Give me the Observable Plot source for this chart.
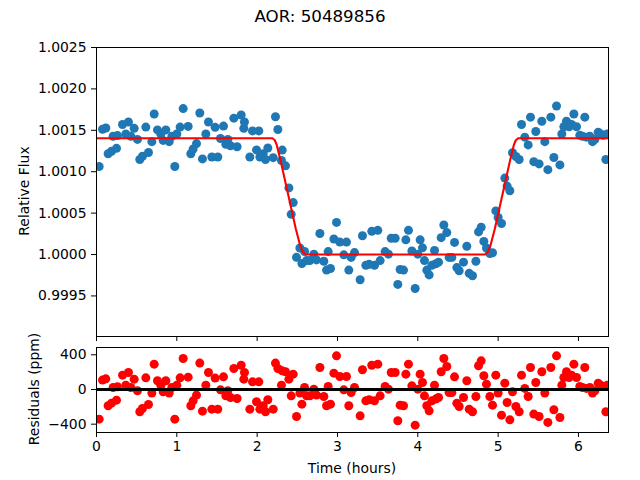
<!DOCTYPE html>
<html>
<head>
<meta charset="utf-8">
<script src="https://cdn.jsdelivr.net/npm/d3@7"></script>
<script src="https://cdn.jsdelivr.net/npm/@observablehq/plot@0.6"></script>
<style>
  html, body { margin: 0; padding: 0; background: #fff; }
  #fig { position: relative; width: 640px; height: 480px; font-family: "DejaVu Sans", sans-serif; color: #000; overflow: hidden; }
  #fig svg { position: absolute; left: 0; }
  .lbl { position: absolute; white-space: nowrap; font-size: 13.9px; transform: translate(-50%, -50%); }
  .rot { transform: translate(-50%, -50%) rotate(-90deg); }
  .title { position: absolute; left: 0; width: 640px; top: 6px; text-align: center; font-size: 16.7px; line-height: 20px; }
</style>
</head>
<body>
<div id="fig">
  <div class="title">AOR: 50489856</div>
  <div class="lbl rot" style="left:24px; top:191px;">Relative Flux</div>
  <div class="lbl rot" style="left:34px; top:389px;">Residuals (ppm)</div>
  <div class="lbl" style="left:352px; top:468px;">Time (hours)</div>
</div>
<script>
// Observation times (hours since start)
const time = [
  0.033, 0.075, 0.116, 0.145, 0.187, 0.207, 0.249, 0.261, 0.324, 0.365,
  0.398, 0.427, 0.469, 0.51, 0.539, 0.572, 0.614, 0.647, 0.689, 0.718,
  0.759, 0.801, 0.83, 0.863, 0.905, 0.938, 0.975, 1.0, 1.041, 1.079,
  1.141, 1.174, 1.203, 1.245, 1.286, 1.319, 1.361, 1.394, 1.436, 1.477,
  1.51, 1.543, 1.581, 1.61, 1.635, 1.668, 1.71, 1.75, 1.801, 1.834,
  1.842, 1.909, 1.942, 1.992, 2.021, 2.034, 2.075, 2.104, 2.133, 2.2,
  2.228, 2.258, 2.303, 2.312, 2.353, 2.395, 2.424, 2.449, 2.49, 2.532,
  2.557, 2.59, 2.615, 2.656, 2.706, 2.739, 2.781, 2.83, 2.864, 2.884,
  2.913, 2.955, 2.988, 3.029, 3.079, 3.112, 3.141, 3.17, 3.212, 3.282,
  3.311, 3.353, 3.394, 3.427, 3.461, 3.502, 3.531, 3.593, 3.635, 3.669,
  3.718, 3.751, 3.78, 3.822, 3.851, 3.884, 3.926, 3.967, 4.0, 4.029,
  4.058, 4.083, 4.112, 4.141, 4.175, 4.208, 4.224, 4.258, 4.291, 4.324,
  4.361, 4.39, 4.424, 4.457, 4.486, 4.515, 4.569, 4.61, 4.64, 4.681,
  4.723, 4.756, 4.789, 4.822, 4.855, 4.897, 4.93, 4.971, 5.0, 5.042,
  5.083, 5.112, 5.146, 5.179, 5.221, 5.262, 5.291, 5.332, 5.374, 5.403,
  5.444, 5.469, 5.51, 5.544, 5.581, 5.619, 5.656, 5.694, 5.727, 5.769,
  5.793, 5.818, 5.851, 5.884, 5.914, 5.943, 5.976, 6.017, 6.05, 6.079,
  6.1, 6.142, 6.175, 6.204, 6.246, 6.275, 6.308, 6.341, 6.358
];

// Measured relative flux
const flux = [
  1.001063, 1.001513, 1.001528, 1.001217, 1.001247, 1.001428, 1.001282, 1.001436, 1.00157, 1.001455,
  1.001601, 1.001428, 1.001524, 1.00139, 1.001148, 1.001186, 1.001539, 1.001232, 1.001363, 1.001697,
  1.001505, 1.001455, 1.001378, 1.001505, 1.001363, 1.001428, 1.001063, 1.001455, 1.001539, 1.001762,
  1.001547, 1.001217, 1.001274, 1.00134, 1.001709, 1.001155, 1.001455, 1.001601, 1.001178, 1.001536,
  1.001178, 1.001401, 1.001551, 1.001332, 1.00139, 1.001313, 1.001647, 1.001301, 1.001685, 1.001524,
  1.001601, 1.001178, 1.001493, 1.001263, 1.001493, 1.001178, 1.001217, 1.001148, 1.001286, 1.00117,
  1.001664, 1.00151, 1.001135, 1.001261, 1.001071, 1.000804, 1.000485, 1.000627, 0.999966, 1.000079,
  0.999891, 1.000036, 0.999927, 0.999927, 1.000004, 0.999935, 1.000254, 0.999919, 0.999812, 1.000035,
  0.999831, 1.000188, 1.000388, 1.00015, 0.999996, 1.00015, 0.999812, 0.999965, 1.000023, 0.999696,
  1.000227, 0.999869, 0.999881, 1.00028, 0.999869, 1.000292, 0.999927, 1.000035, 1.000004, 1.000196,
  1.000196, 0.999639, 0.999819, 0.999812, 1.000177, 1.000292, 1.000042, 0.999589, 1.000004, 1.000177,
  1.000081, 0.999927, 0.999812, 0.999754, 0.999869, 1.00005, 0.999889, 0.999908, 1.000204, 1.000357,
  1.000265, 0.999965, 0.999965, 1.000146, 0.999842, 0.999804, 0.999908, 1.0001, 0.999773, 0.999743,
  0.999919, 1.000273, 1.00033, 1.000158, 1.000079, 1.000011, 1.000022, 1.000527, 1.000447, 1.000375,
  1.000923, 1.000826, 1.00077, 1.001229, 1.001184, 1.001148, 1.00157, 1.001417, 1.001324, 1.001659,
  1.001121, 1.001486, 1.001094, 1.001609, 1.001363, 1.001025, 1.001659, 1.001171, 1.001793, 1.001082,
  1.001455, 1.001543, 1.001609, 1.001543, 1.00157, 1.001697, 1.001543, 1.00144, 1.001428, 1.001659,
  1.001417, 1.001428, 1.001363, 1.00139, 1.001478, 1.001455, 1.00144, 1.001148, 1.001455
];

// Residuals from the transit fit (ppm)
const residual = [
  -342, 108, 123, -188, -158, 23, -123, 31, 165, 50,
  196, 23, 119, -15, -257, -219, 134, -173, -42, 292,
  100, 50, -27, 100, -42, 23, -342, 50, 134, 357,
  142, -188, -131, -65, 304, -250, 50, 196, -227, 131,
  -227, -4, 146, -73, -15, -92, 242, -104, 280, 119,
  196, -227, 88, -142, 88, -227, -188, -257, -119, -227,
  304, 242, 50, 215, 204, 119, -73, 177, -311, -42,
  -169, 23, -73, -73, 4, -65, 254, -81, -188, 35,
  -169, 188, 388, 150, -4, 150, -188, -35, 23, -304,
  227, -131, -119, 280, -131, 292, -73, 35, 4, 196,
  196, -361, -181, -188, 177, 292, 42, -411, 4, 177,
  81, -73, -188, -246, -131, 50, -111, -92, 204, 357,
  265, -35, -35, 146, -158, -196, -92, 100, -227, -257,
  -81, 273, 330, 158, 61, -81, -181, 165, -42, -296,
  73, -150, -350, -27, -196, -257, 165, 12, -81, 254,
  -284, 81, -311, 204, -42, -380, 254, -234, 388, -323,
  50, 138, 204, 138, 165, 292, 138, 35, 23, 254,
  12, 23, -42, -15, 73, 50, 35, -257, 50
];

// Best-fit transit model curve
const modelTime = [0, 2.19, 2.22, 2.245, 2.295, 2.481, 2.535, 2.57, 2.606,
                   4.834, 4.87, 4.905, 4.959, 5.145, 5.195, 5.22, 5.25, 6.374];
const modelFlux = [1.001405, 1.001405, 1.00138, 1.00132, 1.00112, 1.00031, 1.00011, 1.00003, 1.0,
                   1.0, 1.00003, 1.00011, 1.00031, 1.00112, 1.00132, 1.00138, 1.001405, 1.001405];

// Axis ticks
const timeTicks = [0, 1, 2, 3, 4, 5, 6];
const fluxTicks = [0.9995, 1.0000, 1.0005, 1.0010, 1.0015, 1.0020, 1.0025];
const residualTicks = [-400, 0, 400];

const points = time.map((t, i) => ({t, flux: flux[i], residual: residual[i]}));
const model = modelTime.map((t, i) => ({t, flux: modelFlux[i]}));

const timeDomain = [0, 6.374];
const plotStyle = {fontFamily: "DejaVu Sans, sans-serif", fontSize: "13.9px", color: "black", background: "transparent", overflow: "visible"};

const fluxPlot = Plot.plot({
  width: 640, height: 342,
  marginTop: 47, marginBottom: 6, marginLeft: 96, marginRight: 32,
  style: plotStyle,
  x: {domain: timeDomain, ticks: timeTicks, tickSize: 5, tickFormat: () => "", label: null},
  y: {domain: [0.99901, 1.0025], ticks: fluxTicks, tickSize: 5, tickPadding: 5, tickFormat: d => d.toFixed(4), label: null},
  marks: [
    Plot.dot(points, {x: "t", y: "flux", r: 4.5, fill: "#1f77b4", clip: true}),
    Plot.line(model, {x: "t", y: "flux", stroke: "red", strokeWidth: 2.1, clip: true}),
    Plot.frame({stroke: "black", strokeWidth: 1})
  ]
});
fluxPlot.style.top = "0px";

const residualPlot = Plot.plot({
  width: 640, height: 138,
  marginTop: 5, marginBottom: 48, marginLeft: 96, marginRight: 32,
  style: plotStyle,
  x: {domain: timeDomain, ticks: timeTicks, tickSize: 5, tickPadding: 4, tickFormat: d => String(d), label: null},
  y: {domain: [-496, 484], ticks: residualTicks, tickSize: 5, tickPadding: 5, tickFormat: d => d < 0 ? "\u2212" + Math.abs(d) : String(d), label: null},
  marks: [
    Plot.dot(points, {x: "t", y: "residual", r: 4.5, fill: "red", clip: true}),
    Plot.ruleY([0], {stroke: "black", strokeWidth: 2.8}),
    Plot.frame({stroke: "black", strokeWidth: 1})
  ]
});
residualPlot.style.top = "342px";

const fig = document.getElementById("fig");
fig.appendChild(fluxPlot);
fig.appendChild(residualPlot);
</script>
</body>
</html>
